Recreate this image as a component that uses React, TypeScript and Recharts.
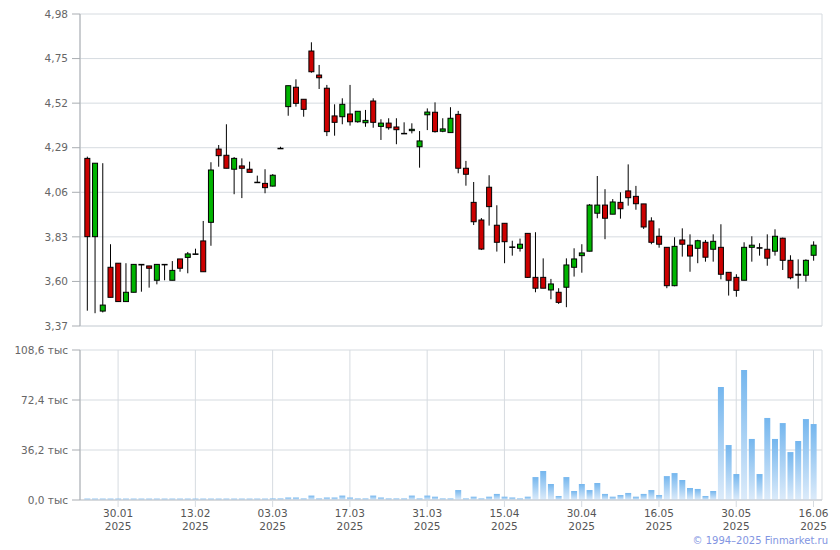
import React from 'react';
import { ComposedChart, Bar, XAxis, YAxis, CartesianGrid } from 'recharts';

const opens = [
  4.235, 3.831, 3.447, 3.673, 3.694, 3.496, 3.544, 3.688, 3.68, 3.606,
  3.688, 3.606, 3.716, 3.724, 3.742, 3.809, 3.905, 4.283, 4.251, 4.179,
  4.196, 4.179, 4.112, 4.106, 4.092, 4.287, 4.502, 4.602, 4.54, 4.789,
  4.665, 4.597, 4.454, 4.45, 4.464, 4.424, 4.419, 4.531, 4.4, 4.417,
  4.397, 4.364, 4.378, 4.295, 4.46, 4.473, 4.375, 4.368, 4.462, 4.184,
  4.008, 3.917, 4.086, 3.89, 3.9, 3.778, 3.771, 3.848, 3.621, 3.621,
  3.556, 3.544, 3.57, 3.673, 3.733, 3.756, 3.952, 3.994, 3.947, 4.008,
  4.067, 4.039, 4.0, 3.912, 3.833, 3.776, 3.578, 3.814, 3.787, 3.771,
  3.802, 3.766, 3.776, 3.647, 3.621, 3.606, 3.776, 3.774, 3.766, 3.756,
  3.823, 3.709, 3.637, 3.632, 3.735,
];
const highs = [
  4.244, 4.21, 4.21, 3.792, 3.694, 3.694, 3.69, 3.69, 3.68, 3.69,
  3.69, 3.705, 3.716, 3.752, 3.769, 3.912, 4.215, 4.304, 4.411, 4.242,
  4.235, 4.218, 4.146, 4.179, 4.154, 4.295, 4.61, 4.643, 4.54, 4.834,
  4.717, 4.614, 4.514, 4.545, 4.614, 4.478, 4.485, 4.545, 4.437, 4.442,
  4.442, 4.421, 4.416, 4.376, 4.493, 4.524, 4.442, 4.499, 4.48, 4.222,
  4.113, 3.927, 4.148, 3.993, 3.9, 3.81, 3.821, 3.848, 3.854, 3.719,
  3.613, 3.565, 3.719, 3.771, 3.792, 3.999, 4.144, 4.076, 4.025, 4.06,
  4.204, 4.093, 4.0, 3.931, 3.874, 3.776, 3.828, 3.874, 3.843, 3.815,
  3.814, 3.843, 3.895, 3.647, 3.637, 3.802, 3.833, 3.797, 3.843, 3.869,
  3.826, 3.735, 3.714, 3.714, 3.807,
];
const lows = [
  3.449, 3.436, 3.44, 3.518, 3.496, 3.496, 3.544, 3.547, 3.568, 3.585,
  3.606, 3.606, 3.65, 3.642, 3.742, 3.65, 3.784, 4.192, 4.184, 4.05,
  4.03, 4.163, 4.112, 4.055, 4.09, 4.287, 4.455, 4.502, 4.45, 4.677,
  4.593, 4.35, 4.352, 4.411, 4.404, 4.419, 4.398, 4.393, 4.33, 4.383,
  4.308, 4.364, 4.364, 4.187, 4.381, 4.368, 4.37, 4.368, 4.158, 4.094,
  3.891, 3.762, 3.888, 3.754, 3.694, 3.733, 3.754, 3.618, 3.544, 3.565,
  3.508, 3.484, 3.467, 3.625, 3.645, 3.755, 3.926, 3.818, 3.947, 3.924,
  3.991, 3.97, 3.871, 3.792, 3.774, 3.565, 3.575, 3.728, 3.65, 3.694,
  3.702, 3.702, 3.611, 3.527, 3.521, 3.606, 3.702, 3.733, 3.681, 3.733,
  3.659, 3.611, 3.563, 3.599, 3.707,
];
const closes = [
  3.831, 4.21, 3.478, 3.518, 3.496, 3.544, 3.688, 3.685, 3.668, 3.688,
  3.688, 3.657, 3.668, 3.742, 3.742, 3.65, 4.175, 4.249, 4.184, 4.235,
  4.184, 4.163, 4.112, 4.084, 4.148, 4.287, 4.61, 4.519, 4.488, 4.682,
  4.651, 4.373, 4.421, 4.514, 4.424, 4.478, 4.431, 4.421, 4.417, 4.393,
  4.383, 4.364, 4.385, 4.325, 4.474, 4.373, 4.387, 4.442, 4.184, 4.153,
  3.908, 3.767, 3.986, 3.802, 3.805, 3.778, 3.792, 3.621, 3.565, 3.565,
  3.587, 3.492, 3.685, 3.716, 3.747, 3.994, 3.994, 3.926, 4.01, 3.975,
  4.032, 4.001, 3.881, 3.802, 3.792, 3.578, 3.781, 3.792, 3.731, 3.81,
  3.725, 3.807, 3.637, 3.606, 3.554, 3.776, 3.787, 3.774, 3.72, 3.833,
  3.709, 3.619, 3.632, 3.709, 3.787,
];
const volumes = [
  1.0, 1.0, 1.0, 1.0, 1.0, 1.0, 1.0, 1.0, 1.0, 1.0,
  1.0, 1.0, 1.0, 1.0, 1.0, 1.0, 1.0, 1.0, 1.0, 1.0,
  1.0, 1.0, 1.0, 1.0, 1.1, 1.1, 1.8, 1.8, 1.1, 3.2,
  1.1, 1.8, 1.8, 3.2, 1.8, 1.1, 1.1, 3.2, 1.8, 1.1,
  1.1, 1.1, 3.2, 1.1, 3.2, 2.4, 1.1, 1.1, 7.2, 1.1,
  2.4, 1.1, 2.4, 4.4, 2.4, 1.8, 1.1, 2.4, 16.6, 21.0,
  11.6, 2.9, 16.6, 6.5, 11.6, 7.2, 12.3, 4.4, 2.4, 3.6,
  5.1, 2.4, 4.4, 7.2, 3.6, 17.3, 19.5, 14.5, 8.7, 8.0,
  2.9, 6.5, 81.8, 39.8, 18.8, 94.1, 44.2, 18.8, 59.4, 44.2,
  55.7, 34.7, 42.7, 58.6, 55.0,
];
const tickIndices = [4, 14, 24, 34, 44, 54, 64, 74, 84, 94];
const tickDates = ['30.01', '13.02', '03.03', '17.03', '31.03', '15.04', '30.04', '16.05', '30.05', '16.06'];
const tickYear = '2025';
const priceTicks = [3.37, 3.6, 3.83, 4.06, 4.29, 4.52, 4.75, 4.98];
const volumeTicks = [0, 36.2, 72.4, 108.6];

const data = opens.map((o, i) => ({
  i,
  open: o,
  high: highs[i],
  low: lows[i],
  close: closes[i],
  range: [lows[i], highs[i]],
  volume: volumes[i],
}));

const GRID = '#d6dbe0';
const AXIS = '#a9adb2';
const FONT = 'DejaVu Sans';
const xDomain: [number, number] = [-0.93, 95.1];

const Candle = (props: any) => {
  const { x, y, width, height, payload } = props;
  if (!payload) return null;
  const top = Math.min(y, y + height);
  const h = Math.abs(height);
  const { open, close, high, low } = payload;
  const span = high - low || 1;
  const py = (v: number) => top + ((high - v) / span) * h;
  const cx = x + width / 2;
  const yo = py(open);
  const yc = py(close);
  const bt = Math.min(yo, yc);
  const bh = Math.max(Math.abs(yo - yc), 0.5);
  const fill = close > open ? '#00b400' : close < open ? '#cc0000' : '#000';
  const bw = Math.max(width - 1, 1);
  return (
    <g>
      <line x1={cx} x2={cx} y1={top} y2={top + h} stroke="#000" strokeWidth={1} />
      <rect x={cx - bw / 2} y={bt} width={bw} height={bh} fill={fill} stroke="#000" strokeWidth={1} />
    </g>
  );
};

const DateTick = (props: any) => {
  const { x, y, payload } = props;
  const k = tickIndices.indexOf(payload.value);
  return (
    <g>
      <text x={x} y={y} textAnchor="middle" fill="#555" fontSize={10.5} fontFamily={FONT}>
        <tspan x={x} dy={7.5}>{tickDates[k]}</tspan>
        <tspan x={x} dy={13}>{tickYear}</tspan>
      </text>
    </g>
  );
};

const fmtPrice = (v: number) => v.toFixed(2).replace('.', ',');
const fmtVol = (v: number) => v.toFixed(1).replace('.', ',') + ' тыс';

export default function App() {
  return (
    <div style={{ position: 'absolute', left: 0, top: 0, width: 840, height: 550, background: '#fff' }}>
      <ComposedChart width={840} height={340} data={data} margin={{ top: 14, right: 18, bottom: 0, left: 0 }}>
        <CartesianGrid stroke={GRID} strokeWidth={1} />
        <XAxis
          type="number"
          dataKey="i"
          domain={xDomain}
          ticks={tickIndices}
          tick={false}
          tickSize={7}
          height={14}
          axisLine={{ stroke: GRID }}
          tickLine={{ stroke: GRID }}
          allowDataOverflow
        />
        <YAxis
          domain={[3.37, 4.98]}
          ticks={priceTicks}
          interval={0}
          width={80}
          tickSize={8}
          tickMargin={4}
          tickFormatter={fmtPrice}
          axisLine={{ stroke: AXIS }}
          tickLine={{ stroke: AXIS }}
          tick={{ fill: '#666', fontSize: 10.5, fontFamily: FONT }}
          allowDataOverflow
        />
        <Bar dataKey="range" barSize={6} shape={<Candle />} isAnimationActive={false} />
      </ComposedChart>
      <ComposedChart width={840} height={210} data={data} margin={{ top: 10, right: 18, bottom: 0, left: 0 }}>
        <defs>
          <linearGradient id="volGrad" x1="0" y1="0" x2="0" y2="1">
            <stop offset="0%" stopColor="#74b6ee" />
            <stop offset="100%" stopColor="#dcebfa" />
          </linearGradient>
        </defs>
        <CartesianGrid stroke={GRID} strokeWidth={1} />
        <XAxis
          type="number"
          dataKey="i"
          domain={xDomain}
          ticks={tickIndices}
          tick={<DateTick />}
          tickSize={7}
          height={50}
          axisLine={{ stroke: '#c3c7cc' }}
          tickLine={{ stroke: GRID }}
          allowDataOverflow
        />
        <YAxis
          domain={[0, 108.6]}
          ticks={volumeTicks}
          interval={0}
          width={80}
          tickSize={8}
          tickMargin={4}
          tickFormatter={fmtVol}
          axisLine={{ stroke: AXIS }}
          tickLine={{ stroke: AXIS }}
          tick={{ fill: '#666', fontSize: 10.5, fontFamily: FONT }}
          allowDataOverflow
        />
        <Bar dataKey="volume" barSize={6} fill="url(#volGrad)" isAnimationActive={false} />
      </ComposedChart>
      <div
        style={{
          position: 'absolute',
          right: 12,
          top: 535,
          fontFamily: FONT,
          fontSize: 10,
          color: '#8295e2',
          whiteSpace: 'nowrap',
        }}
      >
        © 1994–2025 Finmarket.ru
      </div>
    </div>
  );
}
